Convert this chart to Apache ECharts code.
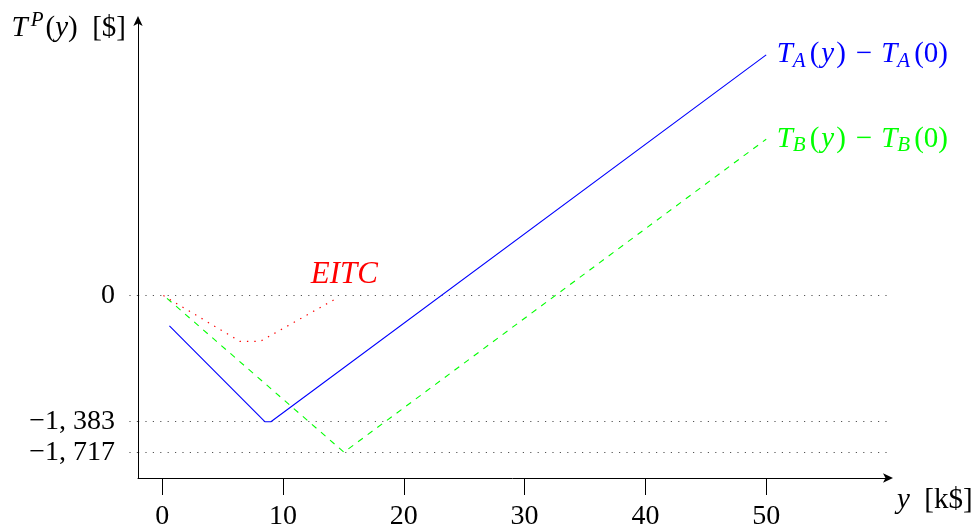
<!DOCTYPE html>
<html><head><meta charset="utf-8">
<script src="https://cdn.jsdelivr.net/npm/echarts@6.0.0/dist/echarts.min.js"></script>
<style>html,body{margin:0;padding:0;background:#fff}#c{width:971px;height:529px}</style>
</head><body><div id="c"></div>
<script>
// ---- data ----
const xTicks = [0, 10, 20, 30, 40, 50];
const yTicks = [0, -1383, -1717];
const taX = [0.6, 8.5, 9.0, 50];
const taY = [-332, -1383, -1383, 2640];
const tbX = [0.4, 15.05, 50];
const tbY = [-30, -1717, 1715];
const eitcX = [0.1, 6.45, 8.1, 14.5];
const eitcY = [0, -503, -503, -25];

const F = 'Liberation Serif';
const FS = 29;
const TS = 28;
const zip = (a, b) => a.map((v, i) => [v, b[i]]);
const fmtNum = v => {
  if (v === 0) return '0';
  const s = Math.abs(v).toString();
  const t = s.length > 3 ? s.slice(0, s.length - 3) + ', ' + s.slice(s.length - 3) : s;
  return (v < 0 ? '\u2212' : '') + t;
};
function richFor(color) {
  return {
    it: {fontFamily: F, fontStyle: 'italic', fontSize: FS, color: color},
    itp: {fontFamily: F, fontStyle: 'italic', fontSize: FS, color: color, padding: [0, 1, 0, 1]},
    n: {fontFamily: F, fontSize: FS, color: color},
    np: {fontFamily: F, fontSize: FS, color: color, padding: [0, 1, 0, 1]},
    m: {fontFamily: F, fontSize: FS, color: color, padding: [0, 9, 0, 9]},
    sub: {fontFamily: F, fontStyle: 'italic', fontSize: 21, color: color, padding: [13, 3, 0, 0]},
    sup: {fontFamily: F, fontStyle: 'italic', fontSize: 21, color: color, padding: [0, 2, 15, 3]}
  };
}
function diffLabel(L) {
  return '{it|T}{sub|' + L + '}{np|(}{itp|y}{np|)}{m|\u2212}{it|T}{sub|' + L + '}{np|(0)}';
}
function endPoint(xs, ys) { return [xs[xs.length - 1], ys[ys.length - 1]]; }

const chart = echarts.init(document.getElementById('c'), null, {renderer: 'canvas'});
chart.setOption({
  animation: false,
  backgroundColor: '#fff',
  grid: {left: 138, right: 84, top: 22, bottom: 51, containLabel: false, outerBoundsMode: 'none'},
  xAxis: {
    type: 'value', min: -2, max: 60,
    name: '{it|y}{n|  [k$]}',
    nameLocation: 'end', nameGap: 10,
    nameTextStyle: {verticalAlign: 'top', align: 'left', padding: [8, 0, 0, 0], rich: richFor('#000')},
    axisLine: {onZero: false, lineStyle: {color: '#000', width: 1}, symbol: ['none', 'arrow'], symbolSize: [7, 10], symbolOffset: [0, 6]},
    axisTick: {show: true, customValues: xTicks, length: 17, inside: false, lineStyle: {color: '#000', width: 1}},
    axisLabel: {customValues: xTicks, margin: 25, fontFamily: F, fontSize: TS, color: '#000'},
    splitLine: {show: false}
  },
  yAxis: {
    type: 'value', min: -2000, max: 3000,
    name: '{it|T}{sup|P}{n|(}{it|y}{n|)}{n|  [$]}',
    nameLocation: 'end', nameGap: -6,
    nameTextStyle: {align: 'right', verticalAlign: 'middle', padding: [0, 12, 0, 0], rich: richFor('#000')},
    axisLine: {onZero: false, lineStyle: {color: '#000', width: 1}, symbol: ['none', 'arrow'], symbolSize: [7, 10], symbolOffset: [0, 6]},
    axisTick: {show: true, customValues: yTicks, length: 13, inside: false, lineStyle: {color: '#555', width: 1, type: [1.2, 6.2]}},
    axisLabel: {customValues: yTicks, margin: 23, fontFamily: F, fontSize: TS, color: '#000', formatter: v => fmtNum(v)},
    splitLine: {show: true, lineStyle: {color: '#555', width: 1, type: [1.2, 6.2]}}
  },
  series: [
    {
      type: 'line', data: zip(taX, taY), showSymbol: false, symbol: 'none',
      lineStyle: {color: '#0000ff', width: 1.1},
      markPoint: {
        symbol: 'circle', symbolSize: 1, itemStyle: {color: 'rgba(0,0,0,0)'},
        data: [{coord: endPoint(taX, taY)}],
        label: {show: true, position: 'right', distance: 10, formatter: diffLabel('A'), rich: richFor('#0000ff')}
      }
    },
    {
      type: 'line', data: zip(tbX, tbY), showSymbol: false, symbol: 'none',
      lineStyle: {color: '#00ff00', width: 1.1, type: [6, 6]},
      markPoint: {
        symbol: 'circle', symbolSize: 1, itemStyle: {color: 'rgba(0,0,0,0)'},
        data: [{coord: endPoint(tbX, tbY)}],
        label: {show: true, position: 'right', distance: 10, formatter: diffLabel('B'), rich: richFor('#00ff00')}
      }
    },
    {
      type: 'line', data: zip(eitcX, eitcY), showSymbol: false, symbol: 'none',
      lineStyle: {color: '#ff0000', width: 1.2, type: [1.4, 6]},
      markPoint: {
        symbol: 'circle', symbolSize: 1, itemStyle: {color: 'rgba(0,0,0,0)'},
        data: [{coord: endPoint(eitcX, eitcY)}],
        label: {show: true, position: 'top', distance: 7, formatter: 'EITC', fontFamily: F, fontStyle: 'italic', fontSize: 31, color: '#ff0000', offset: [7, 0]}
      }
    }
  ]
});
</script></body></html>
